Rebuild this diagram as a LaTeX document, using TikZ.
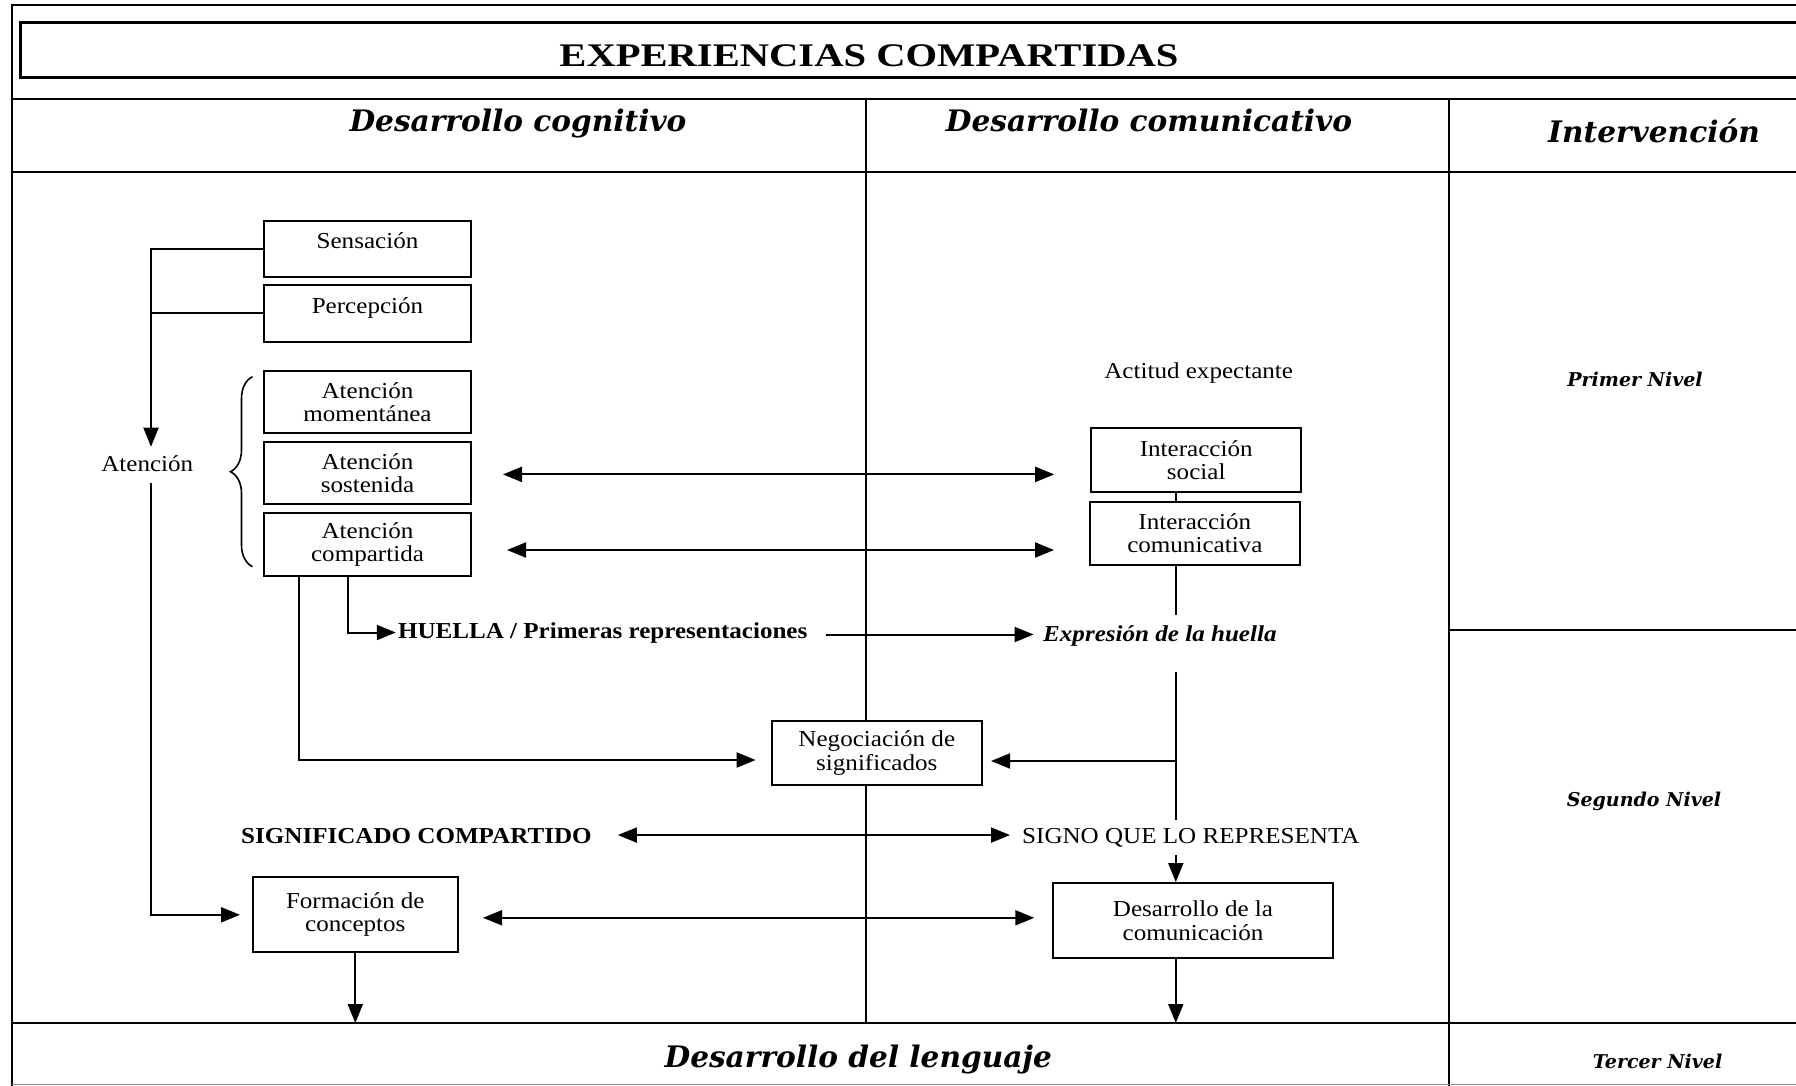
\documentclass[tikz,border=0pt]{standalone}
\usepackage{fontspec}
\setmainfont{Liberation Serif}[FakeStretch=1.1]
\newfontfamily\ttlfont{Liberation Serif}[FakeStretch=1.23]
\newfontfamily\hdfont{DejaVu Serif}
\usetikzlibrary{arrows.meta,decorations.pathreplacing}

\newcommand\bodysize{\fontsize{22.8}{23.3}\selectfont}

\tikzset{
  rule/.style={line width=2pt},
  box/.style={draw, fill=white, line width=2pt, inner sep=0pt, align=center, font=\bodysize},
  onel/.style={text height=15pt, text depth=15pt},
  free/.style={inner xsep=2pt, inner ysep=7.6pt, font=\bodysize},
  head/.style={anchor=base, font=\hdfont\bfseries\itshape\fontsize{29.6}{32}\selectfont},
  level/.style={anchor=base, font=\hdfont\bfseries\itshape\fontsize{19}{22}\selectfont},
  tip/.style={-{Triangle[length=19pt,width=15pt]}},
  arr/.style={line width=2pt, tip},
  darr/.style={line width=2pt, {Triangle[length=19pt,width=15pt]}-{Triangle[length=19pt,width=15pt]}},
}

\begin{document}
\begin{tikzpicture}[x=1pt,y=-1pt]
\useasboundingbox (0,0) rectangle (1796,1086);

% table frame
\draw[rule] (11.5,1086) -- (11.5,5) -- (1796,5);
\draw[line width=3pt] (1796,23) -- (20,23) -- (20,78) -- (1796,78);
\draw[rule] (11.5,99.5) -- (1796,99.5);
\draw[rule] (11.5,172) -- (1796,172);
\draw[rule] (11.5,1023) -- (1796,1023);
\draw[rule] (865.5,99.5) -- (865.5,1023);
\draw[rule] (1449,99.5) -- (1449,1086);
\draw[rule] (1449,629.5) -- (1796,629.5);
\draw[line width=1.5pt, black!45] (11.5,1084.5) -- (1796,1084.5);

% headings
\node[anchor=base, font=\ttlfont\bfseries\fontsize{33}{36}\selectfont] (title) at (869,66.7) {EXPERIENCIAS COMPARTIDAS};
\node[head] (hcog) at (518,132) {Desarrollo cognitivo};
\node[head] (hcom) at (1149,132) {Desarrollo comunicativo};
\node[head] (hint) at (1654,143) {Intervención};
\node[head] (hlen) at (858.3,1067) {Desarrollo del lenguaje};
\node[level] (niv1) at (1635,386.7) {Primer Nivel};
\node[level] (niv2) at (1644,806.7) {Segundo Nivel};
\node[level] (niv3) at (1657.6,1068) {Tercer Nivel};

% cognitive column
\node[box, onel, minimum width=207pt, minimum height=56pt] (sens) at (367.5,248.7) {Sensación};
\node[box, onel, minimum width=207pt, minimum height=56.7pt] (perc) at (367.5,313.3) {Percepción};
\node[box, minimum width=207pt, minimum height=62.3pt] (amom) at (367.5,402.2) {Atención\\momentánea};
\node[box, minimum width=207pt, minimum height=61.7pt] (asost) at (367.5,473.2) {Atención\\sostenida};
\node[box, minimum width=207pt, minimum height=62.7pt] (acomp) at (367.5,544.7) {Atención\\compartida};
\node[box, minimum width=205.4pt, minimum height=75pt] (form) at (355.3,914.8) {Formación de\\conceptos};
\node[free, anchor=base] (atn) at (147.3,471.7) {Atención};
\node[free, anchor=base west, font=\bodysize\bfseries] (huella) at (395.8,638) {HUELLA / Primeras representaciones};
\node[free, anchor=base west, font=\bodysize\bfseries] (sig) at (239,843) {SIGNIFICADO COMPARTIDO};

% communicative column
\node[free, anchor=base] (act) at (1198.7,378.3) {Actitud expectante};
\node[box, minimum width=210pt, minimum height=63.4pt] (isoc) at (1196.2,460) {Interacción\\social};
\node[box, minimum width=209.5pt, minimum height=63.3pt] (icom) at (1194.8,533.3) {Interacción\\comunicativa};
\node[free, anchor=base west, font=\bodysize\bfseries\itshape] (expr) at (1041,641.7) {Expresión de la huella};
\node[box, minimum width=209.5pt, minimum height=64pt] (neg) at (876.8,753) {Negociación de\\significados};
\node[free, anchor=base west] (signo) at (1020,843) {SIGNO QUE LO REPRESENTA};
\node[box, minimum width=279.5pt, minimum height=75.3pt] (dcom) at (1193,920.7) {Desarrollo de la\\comunicación};

% reference points for the connectors
\coordinate (atip) at (151,446.7);
\coordinate (abot) at (151,483);
\coordinate (cx) at (1175.8,0);
\coordinate (g1) at (1175.8,615);
\coordinate (g2) at (1175.8,671.7);
\coordinate (ybot) at (0,1023);

% brace grouping the three kinds of attention
\draw[line width=1.6pt, decorate, decoration={brace, amplitude=22pt}] (252.5,566.7) -- (252.5,376.7);

% sensation and perception lead to attention
\draw[arr] (sens.west) -| (atip);
\draw[rule] (perc.west) -- (perc.west -| atip);
\draw[arr, shorten >=11.6pt] (abot) |- (form.west);

% attention <-> interaction
\draw[darr, shorten <=31pt, shorten >=36pt] ([yshift=-1.2pt]asost.east) -- ([yshift=-1.2pt]asost.east -| isoc.west);
\draw[darr, shorten <=35pt, shorten >=35pt] ([yshift=-5.3pt]acomp.east) -- ([yshift=-5.3pt]acomp.east -| icom.west);

% shared attention branches
\draw[arr] ([xshift=-19.5pt]acomp.south) |- (huella.west);
\draw[arr, shorten >=15.4pt] ([xshift=-69pt]acomp.south) |- ([yshift=-7pt]neg.west);
\draw[arr, shorten <=16pt, shorten >=7.4pt] ([yshift=-2pt]huella.east) -- ([yshift=-2pt]huella.east -| expr.west);

% communicative spine
\draw[rule] (isoc.south -| cx) -- (icom.north -| cx);
\draw[rule] (icom.south -| cx) -- (g1);
\draw[rule] (g2) -- (cx |- signo.north);
\draw[arr, shorten >=8.5pt] ([yshift=-8pt]neg.east -| cx) -- ([yshift=-8pt]neg.east);
\draw[arr] (cx |- signo.south) -- (dcom.north -| cx);
\draw[arr] (dcom.south -| cx) -- (cx |- ybot);

% meaning <-> sign, concepts <-> communication
\draw[darr, shorten <=24pt, shorten >=10pt] ([yshift=0.5pt]sig.east) -- ([yshift=0.5pt]sig.east -| signo.west);
\draw[darr, shorten <=24pt, shorten >=18pt] ([yshift=-3pt]form.east) -- ([yshift=-3pt]form.east -| dcom.west);
\draw[arr] (form.south) -- (form.south |- ybot);
\end{tikzpicture}
\end{document}
